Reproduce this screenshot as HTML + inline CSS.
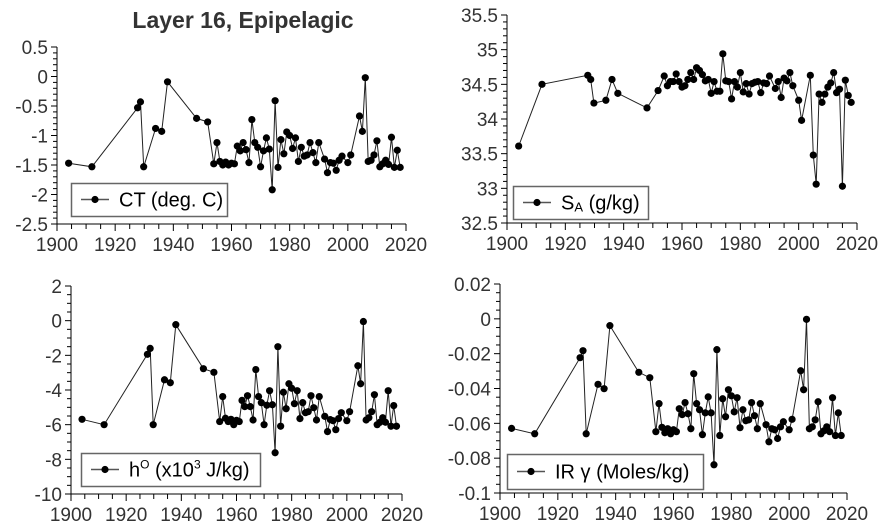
<!DOCTYPE html>
<html><head><meta charset="utf-8"><style>
body{margin:0;background:#fff;}
svg{display:block;font-family:"Liberation Sans","DejaVu Sans",sans-serif;}
</style></head><body>
<svg id="chart" width="892" height="532" viewBox="0 0 892 532" xmlns="http://www.w3.org/2000/svg">
<text x="243" y="28" text-anchor="middle" font-size="23" font-weight="bold" fill="#333">Layer 16, Epipelagic</text>
</svg>
<script>
const years=[1904,1912,1927.7,1928.7,1929.8,1933.9,1936,1938,1948,1951.8,1953.9,1955,1956,1957,1958,1959,1960,1961,1962,1963,1964,1965,1966,1967,1968,1969,1970,1971,1972,1973,1974,1975,1976,1977,1978,1979,1980,1981,1982,1983,1984,1985,1986,1987,1988,1989,1990,1992,1993,1994,1995,1996,1997,1998,2000,2001,2004,2005,2006,2007,2008,2009,2010,2011,2012,2013,2014,2015,2016,2017,2018];
const ctValues=[-1.47,-1.53,-0.53,-0.43,-1.53,-0.88,-0.93,-0.09,-0.71,-0.77,-1.48,-1.12,-1.44,-1.5,-1.45,-1.5,-1.47,-1.48,-1.18,-1.26,-1.12,-1.24,-1.46,-0.73,-1.12,-1.2,-1.53,-1.26,-1.04,-1.23,-1.92,-0.41,-1.54,-1.07,-1.31,-0.94,-1.0,-1.22,-1.04,-1.44,-1.2,-1.35,-1.33,-1.12,-1.29,-1.46,-1.12,-1.4,-1.63,-1.46,-1.47,-1.59,-1.42,-1.35,-1.46,-1.33,-0.67,-0.93,-0.02,-1.44,-1.42,-1.33,-1.09,-1.53,-1.48,-1.42,-1.49,-1.03,-1.54,-1.25,-1.54];
const saValues=[33.61,34.5,34.63,34.57,34.23,34.27,34.57,34.37,34.16,34.41,34.62,34.48,34.54,34.54,34.65,34.54,34.46,34.48,34.57,34.67,34.57,34.74,34.7,34.64,34.55,34.57,34.37,34.54,34.4,34.4,34.94,34.55,34.54,34.29,34.54,34.46,34.67,34.39,34.51,34.36,34.51,34.53,34.54,34.38,34.52,34.51,34.62,34.44,34.54,34.31,34.59,34.55,34.67,34.48,34.27,33.98,34.63,33.48,33.06,34.36,34.24,34.36,34.46,34.52,34.67,34.38,34.43,33.03,34.56,34.34,34.24];
const hValues=[-5.69,-6.0,-1.94,-1.6,-6.0,-3.41,-3.58,-0.23,-2.77,-2.98,-5.82,-4.38,-5.63,-5.82,-5.69,-6.0,-5.75,-5.82,-4.6,-4.96,-4.33,-4.96,-5.73,-2.82,-4.38,-4.73,-6.0,-4.88,-4.04,-4.85,-7.62,-1.5,-6.09,-4.13,-5.08,-3.64,-3.9,-4.79,-4.04,-5.65,-4.73,-5.31,-5.25,-4.33,-5.02,-5.73,-4.38,-5.52,-6.4,-5.71,-5.77,-6.29,-5.65,-5.31,-5.77,-5.25,-2.6,-3.64,-0.05,-5.73,-5.6,-5.25,-4.27,-6.0,-5.86,-5.6,-5.86,-4.04,-6.09,-4.9,-6.09];
const irValues=[-0.0629,-0.066,-0.0223,-0.0183,-0.066,-0.0376,-0.0401,-0.0039,-0.0307,-0.0338,-0.0648,-0.0487,-0.0623,-0.0654,-0.0631,-0.066,-0.0637,-0.0648,-0.0516,-0.055,-0.0481,-0.0545,-0.0631,-0.0315,-0.0487,-0.0522,-0.0665,-0.054,-0.0448,-0.054,-0.0838,-0.0177,-0.067,-0.0459,-0.0562,-0.0407,-0.0442,-0.0534,-0.0453,-0.0625,-0.0522,-0.0585,-0.058,-0.0481,-0.0556,-0.0631,-0.0487,-0.0608,-0.0706,-0.0631,-0.0637,-0.0687,-0.062,-0.0591,-0.0637,-0.0577,-0.0298,-0.0407,-0.0003,-0.0631,-0.062,-0.058,-0.0476,-0.066,-0.0643,-0.062,-0.0648,-0.0453,-0.067,-0.054,-0.067];
const xTicks=[1900,1920,1940,1960,1980,2000,2020];
const ctTicks=[0.5,0,-0.5,-1,-1.5,-2,-2.5];
const saTicks=[35.5,35,34.5,34,33.5,33,32.5];
const hTicks=[2,0,-2,-4,-6,-8,-10];
const irTicks=[0.02,0,-0.02,-0.04,-0.06,-0.08,-0.1];

const NS="http://www.w3.org/2000/svg";
const svg=document.getElementById('chart');
function mk(tag,attrs,parent){const e=document.createElementNS(NS,tag);for(const k in attrs)e.setAttribute(k,attrs[k]);(parent||svg).appendChild(e);return e;}

function panel(p){
  const g=mk('g',{});
  
  
  const yMax=p.yt[0],yMin=p.yt[p.yt.length-1];
  const X=v=>p.x0+(v-1900)/(2020-1900)*(p.x1-p.x0);
  const Y=v=>p.yTop+(yMax-v)/(yMax-yMin)*(p.yBot-p.yTop);
  const ax=mk('g',{},g);
  
  
  mk('line',{x1:p.x0,y1:p.yTop,x2:p.x0,y2:p.yBot,stroke:'#000','stroke-width':1},ax);
  mk('line',{x1:p.x0,y1:p.yBot,x2:p.x1,y2:p.yBot,stroke:'#000','stroke-width':1},ax);
  for(let yr=1900;yr<=2020;yr+=5){const x=X(yr);const maj=yr%20===0;mk('line',{x1:x,y1:p.yBot,x2:x,y2:p.yBot+(maj?7:5),stroke:'#000'},ax);}
  xTicks.forEach(t=>{const tx=mk('text',{x:X(t),y:p.yBot+27,'text-anchor':'middle','font-size':19,fill:'#333'},ax);tx.textContent=t;
    
    });
  const step=p.yt[0]-p.yt[1];
  for(let i=0;i<p.yt.length;i++){
    const y=Y(p.yt[i]);
    mk('line',{x1:p.x0-6,y1:y,x2:p.x0,y2:y,stroke:'#000'},ax);
    if(i<p.yt.length-1){for(let k=1;k<p.minor;k++){const yy=Y(p.yt[i]-step*k/p.minor);mk('line',{x1:p.x0-4,y1:yy,x2:p.x0,y2:yy,stroke:'#000'},ax);}}
    const tx=mk('text',{x:p.x0-9,y:y+7,'text-anchor':'end','font-size':19,fill:'#333'},ax);
    tx.textContent=p.yt[i];
    
    
  }
  const pts=years.map((yr,i)=>X(yr).toFixed(1)+','+Y(p.vals[i]).toFixed(1)).join(' ');
  const line=mk('polyline',{points:pts,fill:'none',stroke:'#222','stroke-width':1},g);
  
  
  years.forEach((yr,i)=>{const c=mk('circle',{cx:X(yr),cy:Y(p.vals[i]),r:3.6,fill:'#000'},g);
    
    });
  const lg=mk('g',{},g);
  
  
  const L=p.leg;
  mk('rect',{x:L[0]+0.5,y:L[1]+0.5,width:L[2],height:L[3],fill:'#fff',stroke:'#666','stroke-width':1.5},lg);
  const cy=L[1]+L[3]/2;
  mk('line',{x1:L[0]+10,y1:cy,x2:L[0]+38,y2:cy,stroke:'#555','stroke-width':1.5},lg);
  mk('circle',{cx:L[0]+24,cy:cy,r:3.6,fill:'#000'},lg);
  const t=mk('text',{x:L[0]+48,y:cy+7,'font-size':20,fill:'#000'},lg);
  t.innerHTML=p.label;
}
panel({name:'ct-panel',x0:57,x1:406,yTop:47,yBot:224,yt:ctTicks,minor:5,vals:ctValues,leg:[71,183,156,33],label:'CT (deg. C)'});
panel({name:'sa-panel',x0:507,x1:857,yTop:15,yBot:223,yt:saTicks,minor:5,vals:saValues,leg:[513,186,135,33],label:'S<tspan font-size="13" dy="2">A</tspan><tspan dy="-2"> (g/kg)</tspan>'});
panel({name:'h-panel',x0:71,x1:402,yTop:286,yBot:494,yt:hTicks,minor:4,vals:hValues,leg:[81,453,179,33],label:'h<tspan font-size="12" dy="-8">O</tspan><tspan dy="8"> (x10</tspan><tspan font-size="12" dy="-8">3</tspan><tspan dy="8"> J/kg)</tspan>'});
panel({name:'ir-panel',x0:500,x1:847,yTop:284,yBot:493,yt:irTicks,minor:4,vals:irValues,leg:[507,454,196,35],label:'IR γ (Moles/kg)'});
</script>
</body></html>
